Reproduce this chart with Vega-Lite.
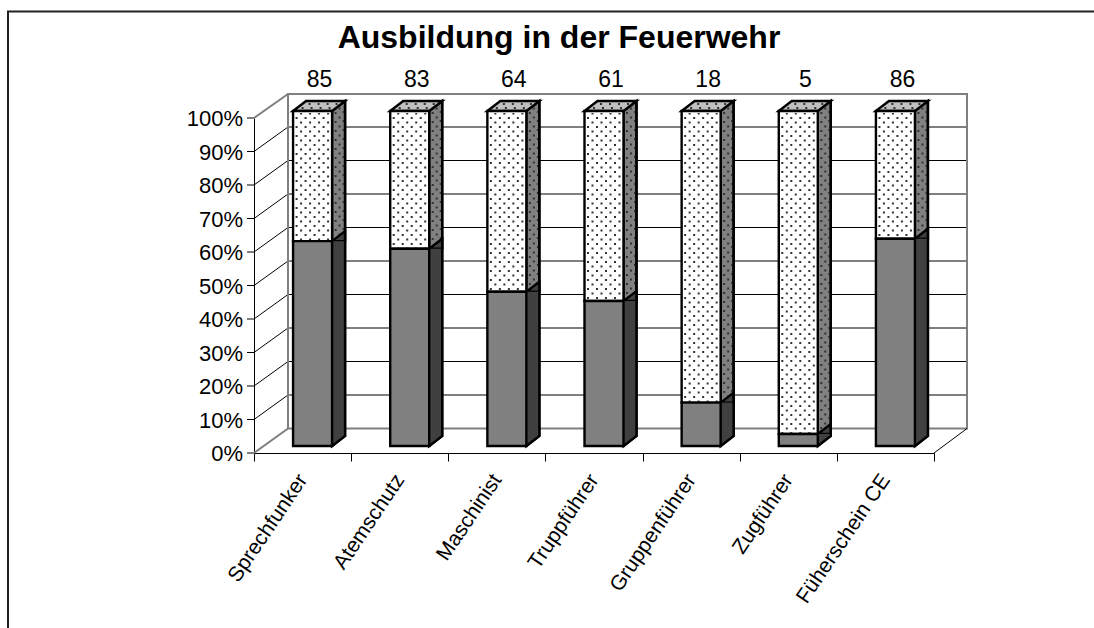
{"$schema":"https://vega.github.io/schema/vega-lite/v6.json","width":680,"height":335,"autosize":{"type":"none"},"padding":{"left":254,"top":118,"right":160,"bottom":175},"background":"white","config":{"view":{"stroke":null},"font":"Liberation Sans"},
"title":{"text":"Ausbildung in der Feuerwehr","font":"Liberation Sans","fontSize":32,"fontWeight":"bold","color":"black","anchor":"middle","dx":-35,"offset":-47},
"datasets":{"ausbildung":[
{"kategorie":"Sprechfunker","gruppe":"Ja","anzahl":85},{"kategorie":"Sprechfunker","gruppe":"Nein","anzahl":54},
{"kategorie":"Atemschutz","gruppe":"Ja","anzahl":83},{"kategorie":"Atemschutz","gruppe":"Nein","anzahl":58},
{"kategorie":"Maschinist","gruppe":"Ja","anzahl":64},{"kategorie":"Maschinist","gruppe":"Nein","anzahl":75},
{"kategorie":"Truppführer","gruppe":"Ja","anzahl":61},{"kategorie":"Truppführer","gruppe":"Nein","anzahl":80},
{"kategorie":"Gruppenführer","gruppe":"Ja","anzahl":18},{"kategorie":"Gruppenführer","gruppe":"Nein","anzahl":121},
{"kategorie":"Zugführer","gruppe":"Ja","anzahl":5},{"kategorie":"Zugführer","gruppe":"Nein","anzahl":134},
{"kategorie":"Füherschein CE","gruppe":"Ja","anzahl":86},{"kategorie":"Füherschein CE","gruppe":"Nein","anzahl":53}],
"skala":[{"t":0},{"t":0.1},{"t":0.2},{"t":0.3},{"t":0.4},{"t":0.5},{"t":0.6},{"t":0.7},{"t":0.8},{"t":0.9},{"t":1}]},
"data":{"name":"ausbildung"},
"transform":[{"stack":"anzahl","groupby":["kategorie"],"sort":[{"field":"gruppe","order":"ascending"}],"offset":"normalize","as":["y0","y1"]}],
"encoding":{"x":{"field":"kategorie","type":"nominal","title":null,"scale":{"type":"band","paddingInner":0,"paddingOuter":0,"domain":["Sprechfunker","Atemschutz","Maschinist","Truppführer","Gruppenführer","Zugführer","Füherschein CE"]},"axis":{"tickBand":"extent","tickSize":8,"tickColor":"black","domainColor":"black","labelAngle":-56,"labelAlign":"right","labelBaseline":"middle","labelFontSize":21,"labelColor":"black","labelPadding":15,"labelLimit":400,"labelOverlap":false,"labelBound":false,"labelFlush":false,"grid":false}}},
"layer":[
{"data":{"name":"skala"},"transform":[{"filter":"datum.t > 0 && datum.t < 1"}],"mark":{"type":"point","opacity":1,"filled":false,"size":4,"stroke":"black","strokeWidth":1,"shape":"M-7,0H0L34,-24.5H713"},"encoding":{"x":{"datum":"Sprechfunker","type":"nominal","bandPosition":0},"y":{"field":"t","type":"quantitative","title":null,"scale":{"domain":[0,1]},"axis":{"labels":false,"ticks":false,"domainColor":"black","grid":false}}}},
{"data":{"name":"skala"},"transform":[{"filter":"datum.t == 0 || datum.t == 1"}],"mark":{"type":"point","opacity":1,"filled":false,"size":4,"stroke":"black","strokeWidth":1,"shape":"M-7,0H0"},"encoding":{"x":{"datum":"Sprechfunker","type":"nominal","bandPosition":0},"y":{"field":"t","type":"quantitative"}}},
{"data":{"name":"skala"},"mark":{"type":"text","font":"Liberation Sans","fontSize":22,"color":"black","align":"right","baseline":"middle","xOffset":-11,"yOffset":1},"encoding":{"x":{"datum":"Sprechfunker","type":"nominal","bandPosition":0},"y":{"field":"t","type":"quantitative"},"text":{"field":"t","type":"quantitative","format":".0%"}}},
{"data":{"name":"skala"},"transform":[{"filter":"datum.t == 0"}],"mark":{"type":"point","opacity":1,"filled":false,"size":4,"stroke":"#808080","strokeWidth":2,"shape":"M0,0L34,-24.5V-359H713V-24.5H34M0,-335L34,-359"},"encoding":{"x":{"datum":"Sprechfunker","type":"nominal","bandPosition":0},"y":{"field":"t","type":"quantitative"}}},
{"data":{"name":"skala"},"transform":[{"filter":"datum.t == 0"}],"mark":{"type":"point","opacity":1,"filled":false,"size":4,"stroke":"black","strokeWidth":1,"shape":"M680,0L713,-24.5"},"encoding":{"x":{"datum":"Sprechfunker","type":"nominal","bandPosition":0},"y":{"field":"t","type":"quantitative"}}},
{"data":{"name":"skala"},"transform":[{"filter":"datum.t == 0"}],"mark":{"type":"point","opacity":1,"filled":false,"size":4,"stroke":"#222222","strokeWidth":2,"shape":"M-246,175V-441.5H840"},"encoding":{"x":{"datum":"Sprechfunker","type":"nominal","bandPosition":0},"y":{"field":"t","type":"quantitative"}}},
{"transform":[{"filter":"datum.gruppe == 'Nein'"}],"mark":{"type":"point","opacity":1,"filled":true,"size":4,"xOffset":10,"yOffset":-7,"fill":"#808080","stroke":"black","strokeWidth":2.4,"shape":"M19.5,0L32.5,-10V-345L19.5,-335Z"},"encoding":{"y":{"datum":0,"type":"quantitative"}}},
{"transform":[{"filter":"datum.gruppe == 'Nein'"}],"mark":{"type":"point","opacity":1,"filled":true,"size":4,"xOffset":10,"yOffset":-7,"fill":"#c0c0c0","stroke":"black","strokeWidth":2.4,"shape":"M-19.5,-335L-6.5,-345H32.5L19.5,-335Z"},"encoding":{"y":{"datum":0,"type":"quantitative"}}},
{"transform":[{"filter":"datum.gruppe == 'Nein'"}],"mark":{"type":"bar","width":39,"xOffset":10,"yOffset":-7,"y2Offset":-7,"fill":"white","stroke":"black","strokeWidth":2.4},"encoding":{"y":{"field":"y1","type":"quantitative"},"y2":{"field":"y0"}}},
{"transform":[{"filter":"datum.gruppe == 'Nein'"}],"mark":{"type":"point","opacity":1,"filled":false,"size":4,"xOffset":10,"yOffset":-7,"stroke":"#333333","strokeWidth":2,"strokeDash":[2,7],"shape":"M-16,-3V-333M-11.5,-7.5V-333M-7,-3V-333M-2.5,-7.5V-333M2,-3V-333M6.5,-7.5V-333M11,-3V-333M15.5,-7.5V-333M23,-8V-338M27,-12.5V-341M31,-9V-341M-11,-338H20M-4,-342H28"},"encoding":{"y":{"datum":0,"type":"quantitative"}}},
{"transform":[{"filter":"datum.gruppe == 'Ja'"}],"mark":{"type":"point","opacity":1,"filled":true,"size":4,"xOffset":10,"yOffset":-7,"fill":"#404040","stroke":"black","strokeWidth":2.4,"shape":"M19.5,0L32.5,-10V0Z"},"encoding":{"y":{"field":"y1","type":"quantitative"}}},
{"transform":[{"filter":"datum.gruppe == 'Ja'"}],"mark":{"type":"point","opacity":1,"filled":true,"size":4,"xOffset":10,"yOffset":-7,"fill":"#404040","shape":"M19.5,0L32.5,-10H19.5Z"},"encoding":{"y":{"datum":0,"type":"quantitative"}}},
{"transform":[{"filter":"datum.gruppe == 'Ja'"}],"mark":{"type":"bar","width":13,"xOffset":36,"yOffset":-7,"y2Offset":-17,"fill":"#404040"},"encoding":{"y":{"field":"y1","type":"quantitative"},"y2":{"field":"y0"}}},
{"transform":[{"filter":"datum.gruppe == 'Ja'"}],"mark":{"type":"point","opacity":1,"filled":false,"size":4,"xOffset":10,"yOffset":-7,"stroke":"black","strokeWidth":2.4,"shape":"M19.5,0L32.5,-10V-345"},"encoding":{"y":{"datum":0,"type":"quantitative"}}},
{"transform":[{"filter":"datum.gruppe == 'Ja'"}],"mark":{"type":"bar","width":39,"xOffset":10,"yOffset":-7,"y2Offset":-7,"fill":"#808080","stroke":"black","strokeWidth":2.4},"encoding":{"y":{"field":"y1","type":"quantitative"},"y2":{"field":"y0"}}},
{"transform":[{"filter":"datum.gruppe == 'Ja'"}],"mark":{"type":"text","font":"Liberation Sans","fontSize":23,"color":"black","baseline":"alphabetic","align":"center","xOffset":17,"yOffset":-31},"encoding":{"y":{"datum":1,"type":"quantitative"},"text":{"field":"anzahl","type":"quantitative"}}}
]}
